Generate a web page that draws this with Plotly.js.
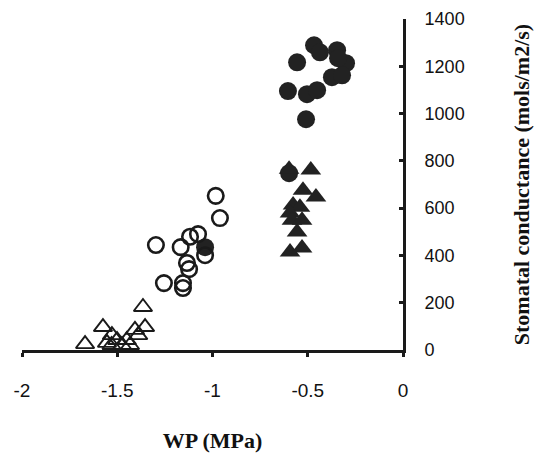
<!DOCTYPE html>
<html>
<head>
<meta charset="utf-8">
<script src="https://cdn.plot.ly/plotly-3.0.1.min.js"></script>
<style>
  html, body { margin: 0; padding: 0; background: #fff; }
  #chart { width: 534px; height: 453px; }
</style>
</head>
<body>
<div id="chart"></div>
<script>
// Filled circles
const filledCircleX = [-0.467, -0.436, -0.346, -0.299, -0.341, -0.556, -0.373, -0.320, -0.604, -0.504, -0.451, -0.509, -0.598, -1.039];
const filledCircleY = [1289, 1259, 1268, 1213, 1234, 1217, 1154, 1162, 1095, 1082, 1099, 976, 748, 435];

// Filled triangles
const filledTriX = [-0.598, -0.484, -0.525, -0.457, -0.577, -0.541, -0.593, -0.583, -0.530, -0.556, -0.593, -0.530];
const filledTriY = [765, 761, 676, 647, 613, 604, 579, 549, 549, 499, 414, 431];

// Open circles
const openCircleX = [-0.983, -0.961, -1.297, -1.167, -1.118, -1.076, -1.039, -1.134, -1.123, -1.255, -1.155, -1.155];
const openCircleY = [652, 558, 444, 435, 479, 490, 401, 368, 342, 283, 283, 262];

// Open triangles
const openTriX = [-1.669, -1.575, -1.528, -1.554, -1.501, -1.475, -1.433, -1.407, -1.365, -1.354, -1.390, -1.450, -1.530];
const openTriY = [25, 97, 63, 30, 42, 21, 21, 85, 182, 97, 63, 42, 21];

const xTickVals = [-2, -1.5, -1, -0.5, 0];
const xTickText = ['-2', '-1.5', '-1', '-0.5', '0'];
const yTickVals = [0, 200, 400, 600, 800, 1000, 1200, 1400];

const ink = '#1a1a1a';

const traces = [
  { x: filledCircleX, y: filledCircleY, type: 'scatter', mode: 'markers', name: 'filled circles',
    marker: { symbol: 'circle', size: 18, color: '#222', line: { width: 0 } } },
  { x: filledTriX, y: filledTriY, type: 'scatter', mode: 'markers', name: 'filled triangles',
    marker: { symbol: 'triangle-up', size: 18, color: '#222', line: { width: 0 } } },
  { x: openCircleX, y: openCircleY, type: 'scatter', mode: 'markers', name: 'open circles',
    marker: { symbol: 'circle-open', size: 15.5, color: ink, line: { width: 2.6, color: ink } } },
  { x: openTriX, y: openTriY, type: 'scatter', mode: 'markers', name: 'open triangles',
    marker: { symbol: 'triangle-up-open', size: 16, color: ink, line: { width: 1.9, color: ink } } }
];

const layout = {
  width: 534, height: 453,
  margin: { l: 22, r: 131, t: 19, b: 103 },
  paper_bgcolor: '#fff', plot_bgcolor: '#fff',
  showlegend: false,
  xaxis: {
    range: [-2, 0], automargin: false,
    tickvals: xTickVals, ticktext: xTickText,
    showgrid: false, zeroline: false,
    showline: true, linewidth: 3, linecolor: ink,
    ticks: 'outside', ticklen: 4, tickwidth: 3, tickcolor: ink,
    ticklabelstandoff: 17,
    tickfont: { family: 'Liberation Sans, Arial, sans-serif', size: 19, color: '#111' },
    title: { text: 'WP (MPa)', standoff: 37,
      font: { family: 'Liberation Serif, Times New Roman, serif', size: 22, color: '#111', weight: 'bold' } }
  },
  yaxis: {
    range: [0, 1400], side: 'right', automargin: false,
    tickvals: yTickVals,
    showgrid: false, zeroline: false,
    showline: true, linewidth: 3, linecolor: ink,
    ticks: 'inside', ticklen: 4, tickwidth: 3, tickcolor: ink,
    ticklabelstandoff: 15,
    tickfont: { family: 'Liberation Sans, Arial, sans-serif', size: 18, color: '#111' },
    title: { text: 'Stomatal conductance (mols/m2/s)', standoff: 50,
      font: { family: 'Liberation Serif, Times New Roman, serif', size: 22, color: '#111', weight: 'bold' } }
  }
};

Plotly.newPlot('chart', traces, layout, { displayModeBar: false, staticPlot: true });
</script>
</body>
</html>
